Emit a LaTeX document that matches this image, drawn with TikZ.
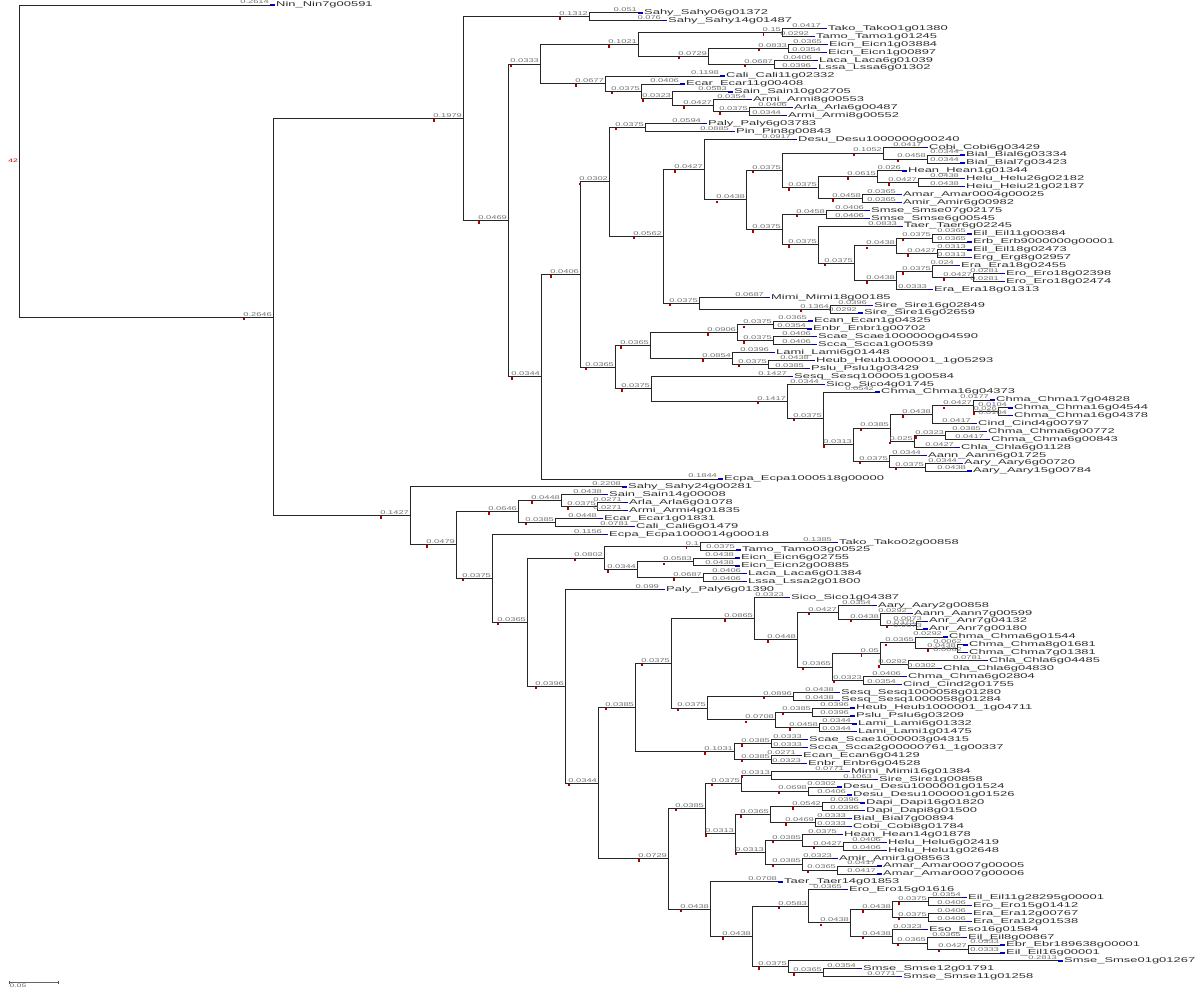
\documentclass[tikz,border=0pt]{standalone}
\usepackage{fontspec}
\usepackage{tikz}
\usetikzlibrary{calc}
\newfontfamily\tipfont[FakeStretch=1.85]{Liberation Sans}
\newfontfamily\lenfont[FakeStretch=1.7]{Liberation Sans}
\pgfkeys{/pgf/number format/.cd, fixed, precision=4, assume math mode=true}

% branch to an inner node / to a tip
\newcommand\br[2]{%
  \draw[branch] let \p1=(#1), \p2=(#2) in
    (#1) |- (#2) node[blen] (#2lab)
    {\pgfmathsetmacro\blen{(\x2-\x1)/960}\pgfmathprintnumber{\blen}};
  \fill[boot] ($(#2lab.south west)+(1pt,-0.6pt)$) rectangle ++(1.6pt,-2.4pt);}
\newcommand\bt[2]{%
  \draw[branch] let \p1=(#1), \p2=(#2.west) in
    (#1) |- (#2.west) node[blen]
    {\pgfmathsetmacro\blen{(\x2-\x1)/960}\pgfmathprintnumber{\blen}};
  \draw[tipmark] (#2.west) -- ++(5pt,0pt);}

\begin{document}
\begin{tikzpicture}[x=1pt, y=-7.9pt]

  % Styles
  \tikzset{
    branch/.style={draw=black!85, line width=1pt},
    blen/.style={pos=1, anchor=south east, inner sep=0.6pt,
      font=\lenfont\fontsize{5.5}{6}\selectfont, text=black!55},
    tip/.style={anchor=west, inner xsep=6pt, inner ysep=0pt,
      font=\tipfont\fontsize{7}{8}\selectfont, text=black!82},
    tipmark/.style={draw=blue!75!black, line width=1.3pt},
    boot/.style={fill=red!70!black},
  }

  \useasboundingbox (0,0.367) rectangle (1200,125.94);

  % Tips
  \node[tip] (t1) at (270,1) {Nin\_Nin7g00591};
  \node[tip] (t2) at (638,2) {Sahy\_Sahy06g01372};
  \node[tip] (t3) at (662,3) {Sahy\_Sahy14g01487};
  \node[tip] (t4) at (822,4) {Tako\_Tako01g01380};
  \node[tip] (t5) at (810,5) {Tamo\_Tamo1g01245};
  \node[tip] (t6) at (823,6) {Eicn\_Eicn1g03884};
  \node[tip] (t7) at (822,7) {Eicn\_Eicn1g00897};
  \node[tip] (t8) at (813,8) {Laca\_Laca6g01039};
  \node[tip] (t9) at (812,9) {Lssa\_Lssa6g01302};
  \node[tip] (t10) at (720,10) {Cali\_Cali11g02332};
  \node[tip] (t11) at (680,11) {Ecar\_Ecar11g00408};
  \node[tip] (t12) at (728,12) {Sain\_Sain10g02705};
  \node[tip] (t13) at (747,13) {Armi\_Armi8g00553};
  \node[tip] (t14) at (788,14) {Arla\_Arla6g00487};
  \node[tip] (t15) at (782,15) {Armi\_Armi8g00552};
  \node[tip] (t16) at (702,16) {Paly\_Paly6g03783};
  \node[tip] (t17) at (730,17) {Pin\_Pin8g00843};
  \node[tip] (t18) at (792,18) {Desu\_Desu1000000g00240};
  \node[tip] (t19) at (923,19) {Cobi\_Cobi6g03429};
  \node[tip] (t20) at (960,20) {Bial\_Bial6g03334};
  \node[tip] (t21) at (960,21) {Bial\_Bial7g03423};
  \node[tip] (t22) at (902,22) {Hean\_Hean1g01344};
  \node[tip] (t23) at (960,23) {Helu\_Helu26g02182};
  \node[tip] (t24) at (960,24) {Heiu\_Heiu21g02187};
  \node[tip] (t25) at (897,25) {Amar\_Amar0004g00025};
  \node[tip] (t26) at (897,26) {Amir\_Amir6g00982};
  \node[tip] (t27) at (865,27) {Smse\_Smse07g02175};
  \node[tip] (t28) at (865,28) {Smse\_Smse6g00545};
  \node[tip] (t29) at (898,29) {Taer\_Taer6g02245};
  \node[tip] (t30) at (967,30) {Eil\_Eil11g00384};
  \node[tip] (t31) at (967,31) {Erb\_Erb9000000g00001};
  \node[tip] (t32) at (967,32) {Eil\_Eil18g02473};
  \node[tip] (t33) at (967,33) {Erg\_Erg8g02957};
  \node[tip] (t34) at (955,34) {Era\_Era18g02455};
  \node[tip] (t35) at (1000,35) {Ero\_Ero18g02398};
  \node[tip] (t36) at (1000,36) {Ero\_Ero18g02474};
  \node[tip] (t37) at (928,37) {Era\_Era18g01313};
  \node[tip] (t38) at (765,38) {Mimi\_Mimi18g00185};
  \node[tip] (t39) at (868,39) {Sire\_Sire16g02849};
  \node[tip] (t40) at (858,40) {Sire\_Sire16g02659};
  \node[tip] (t41) at (808,41) {Ecan\_Ecan1g04325};
  \node[tip] (t42) at (807,42) {Enbr\_Enbr1g00702};
  \node[tip] (t43) at (812,43) {Scae\_Scae1000000g04590};
  \node[tip] (t44) at (812,44) {Scca\_Scca1g00539};
  \node[tip] (t45) at (770,45) {Lami\_Lami6g01448};
  \node[tip] (t46) at (810,46) {Heub\_Heub1000001\_1g05293};
  \node[tip] (t47) at (805,47) {Pslu\_Pslu1g03429};
  \node[tip] (t48) at (788,48) {Sesq\_Sesq1000051g00584};
  \node[tip] (t49) at (820,49) {Sico\_Sico4g01745};
  \node[tip] (t50) at (875,50) {Chma\_Chma16g04373};
  \node[tip] (t51) at (990,51) {Chma\_Chma17g04828};
  \node[tip] (t52) at (1008,52) {Chma\_Chma16g04544};
  \node[tip] (t53) at (1008,53) {Chma\_Chma16g04378};
  \node[tip] (t54) at (972,54) {Cind\_Cind4g00797};
  \node[tip] (t55) at (982,55) {Chma\_Chma6g00772};
  \node[tip] (t56) at (985,56) {Chma\_Chma6g00843};
  \node[tip] (t57) at (955,57) {Chla\_Chla6g01128};
  \node[tip] (t58) at (922,58) {Aann\_Aann6g01725};
  \node[tip] (t59) at (958,59) {Aary\_Aary6g00720};
  \node[tip] (t60) at (967,60) {Aary\_Aary15g00784};
  \node[tip] (t61) at (718,61) {Ecpa\_Ecpa1000518g00000};
  \node[tip] (t62) at (622,62) {Sahy\_Sahy24g00281};
  \node[tip] (t63) at (603,63) {Sain\_Sain14g00008};
  \node[tip] (t64) at (623,64) {Arla\_Arla6g01078};
  \node[tip] (t65) at (623,65) {Armi\_Armi4g01835};
  \node[tip] (t66) at (598,66) {Ecar\_Ecar1g01831};
  \node[tip] (t67) at (630,67) {Cali\_Cali6g01479};
  \node[tip] (t68) at (603,68) {Ecpa\_Ecpa1000014g00018};
  \node[tip] (t69) at (833,69) {Tako\_Tako02g00858};
  \node[tip] (t70) at (736,70) {Tamo\_Tamo03g00525};
  \node[tip] (t71) at (735,71) {Eicn\_Eicn6g02755};
  \node[tip] (t72) at (735,72) {Eicn\_Eicn2g00885};
  \node[tip] (t73) at (742,73) {Laca\_Laca6g01384};
  \node[tip] (t74) at (742,74) {Lssa\_Lssa2g01800};
  \node[tip] (t75) at (660,75) {Paly\_Paly6g01390};
  \node[tip] (t76) at (785,76) {Sico\_Sico1g04387};
  \node[tip] (t77) at (872,77) {Aary\_Aary2g00858};
  \node[tip] (t78) at (908,78) {Aann\_Aann7g00599};
  \node[tip] (t79) at (923,79) {Anr\_Anr7g04132};
  \node[tip] (t80) at (923,80) {Anr\_Anr7g00180};
  \node[tip] (t81) at (943,81) {Chma\_Chma6g01544};
  \node[tip] (t82) at (963,82) {Chma\_Chma8g01681};
  \node[tip] (t83) at (963,83) {Chma\_Chma7g01381};
  \node[tip] (t84) at (983,84) {Chla\_Chla6g04485};
  \node[tip] (t85) at (937,85) {Chla\_Chla6g04830};
  \node[tip] (t86) at (902,86) {Chma\_Chma6g02804};
  \node[tip] (t87) at (897,87) {Cind\_Cind2g01755};
  \node[tip] (t88) at (835,88) {Sesq\_Sesq1000058g01280};
  \node[tip] (t89) at (835,89) {Sesq\_Sesq1000058g01284};
  \node[tip] (t90) at (850,90) {Heub\_Heub1000001\_1g04711};
  \node[tip] (t91) at (850,91) {Pslu\_Pslu6g03209};
  \node[tip] (t92) at (852,92) {Lami\_Lami6g01332};
  \node[tip] (t93) at (852,93) {Lami\_Lami1g01475};
  \node[tip] (t94) at (803,94) {Scae\_Scae1000003g04315};
  \node[tip] (t95) at (803,95) {Scca\_Scca2g00000761\_1g00337};
  \node[tip] (t96) at (797,96) {Ecan\_Ecan6g04129};
  \node[tip] (t97) at (802,97) {Enbr\_Enbr6g04528};
  \node[tip] (t98) at (845,98) {Mimi\_Mimi16g01384};
  \node[tip] (t99) at (873,99) {Sire\_Sire1g00858};
  \node[tip] (t100) at (837,100) {Desu\_Desu1000001g01524};
  \node[tip] (t101) at (847,101) {Desu\_Desu1000001g01526};
  \node[tip] (t102) at (860,102) {Dapi\_Dapi16g01820};
  \node[tip] (t103) at (860,103) {Dapi\_Dapi8g01500};
  \node[tip] (t104) at (847,104) {Bial\_Bial7g00894};
  \node[tip] (t105) at (847,105) {Cobi\_Cobi8g01784};
  \node[tip] (t106) at (838,106) {Hean\_Hean14g01878};
  \node[tip] (t107) at (882,107) {Helu\_Helu6g02419};
  \node[tip] (t108) at (882,108) {Helu\_Helu1g02648};
  \node[tip] (t109) at (833,109) {Amir\_Amir1g08563};
  \node[tip] (t110) at (877,110) {Amar\_Amar0007g00005};
  \node[tip] (t111) at (877,111) {Amar\_Amar0007g00006};
  \node[tip] (t112) at (778,112) {Taer\_Taer14g01853};
  \node[tip] (t113) at (843,113) {Ero\_Ero15g01616};
  \node[tip] (t114) at (962,114) {Eil\_Eil11g28295g00001};
  \node[tip] (t115) at (967,115) {Ero\_Ero15g01412};
  \node[tip] (t116) at (967,116) {Era\_Era12g00767};
  \node[tip] (t117) at (967,117) {Era\_Era12g01538};
  \node[tip] (t118) at (923,118) {Eso\_Eso16g01584};
  \node[tip] (t119) at (962,119) {Eil\_Eil8g00867};
  \node[tip] (t120) at (1000,120) {Ebr\_Ebr189638g00001};
  \node[tip] (t121) at (1000,121) {Eil\_Eil16g00001};
  \node[tip] (t122) at (1058,122) {Smse\_Smse01g01267};
  \node[tip] (t123) at (857,123) {Smse\_Smse12g01791};
  \node[tip] (t124) at (897,124) {Smse\_Smse11g01258};

  % Inner nodes, upper half
  \coordinate (root) at (19,20.76);
  \coordinate (n1) at (273,40.53);
  \coordinate (n2) at (463,15.39);
  \coordinate (nSahy) at (589,2.5);
  \coordinate (n4) at (508,28.28);
  \coordinate (n5) at (540,8.48);
  \coordinate (n7) at (638,6.0);
  \coordinate (nTT) at (782,4.5);
  \coordinate (n10) at (708,7.5);
  \coordinate (nEi) at (788,6.5);
  \coordinate (nLa) at (774,8.5);
  \coordinate (n8) at (605,10.97);
  \coordinate (n13) at (641,11.94);
  \coordinate (n14) at (672,12.88);
  \coordinate (nAr1) at (713,13.75);
  \coordinate (nAr2) at (749,14.5);
  \coordinate (n6) at (541,48.07);
  \coordinate (n17) at (580,35.13);
  \coordinate (n18) at (609,23.4);
  \coordinate (nPa) at (645,16.5);
  \coordinate (n21) at (663,30.3);
  \coordinate (n22) at (704,21.84);
  \coordinate (n24) at (746,25.68);
  \coordinate (n25) at (782,21.94);
  \coordinate (nCo) at (883,19.75);
  \coordinate (nBi) at (927,20.5);
  \coordinate (n28) at (818,24.13);
  \coordinate (nHe1) at (877,22.75);
  \coordinate (nHe2) at (918,23.5);
  \coordinate (nAm) at (862,25.5);
  \coordinate (n26) at (782,29.42);
  \coordinate (nSm) at (826,27.5);
  \coordinate (nTa) at (818,31.34);
  \coordinate (nE7) at (854,33.69);
  \coordinate (nE3) at (896,31.5);
  \coordinate (nE1) at (932,30.5);
  \coordinate (nE2) at (937,32.5);
  \coordinate (nE6) at (896,35.88);
  \coordinate (nE5) at (932,34.75);
  \coordinate (nE4) at (973,35.5);
  \coordinate (n23) at (699,38.75);
  \coordinate (nSi) at (830,39.5);
  \coordinate (n19) at (615,46.85);
  \coordinate (n650) at (650,44.13);
  \coordinate (n737) at (737,42.5);
  \coordinate (nEc) at (773,41.5);
  \coordinate (nSc) at (773,43.5);
  \coordinate (n732) at (732,45.75);
  \coordinate (nHP) at (768,46.5);
  \coordinate (n651) at (651,49.58);
  \coordinate (n787) at (787,51.17);
  \coordinate (n823) at (823,53.33);
  \coordinate (nX) at (853,56.66);
  \coordinate (nE) at (890,54.56);
  \coordinate (nB) at (932,52.88);
  \coordinate (nG) at (973,51.75);
  \coordinate (nA) at (998,52.5);
  \coordinate (nD) at (914,56.25);
  \coordinate (nC) at (945,55.5);
  \coordinate (nH) at (889,58.75);
  \coordinate (nF) at (925,59.5);

  % Inner nodes, lower half
  \coordinate (n3) at (410,65.67);
  \coordinate (n456) at (456,69.34);
  \coordinate (n518) at (518,65.13);
  \coordinate (nSa) at (561,63.75);
  \coordinate (nAr3) at (597,64.5);
  \coordinate (nEC) at (555,66.5);
  \coordinate (n492) at (492,73.56);
  \coordinate (n527) at (527,79.13);
  \coordinate (n604) at (604,71);
  \coordinate (nTT2) at (700,69.5);
  \coordinate (n637) at (637,72.5);
  \coordinate (nEi2) at (693,71.5);
  \coordinate (nLa2) at (703,73.5);
  \coordinate (n565) at (565,87.25);
  \coordinate (n598) at (598,99.5);
  \coordinate (n635) at (635,89.92);
  \coordinate (n671) at (671,84.34);
  \coordinate (n754) at (754,78.67);
  \coordinate (n797) at (797,81.34);
  \coordinate (n838) at (838,77.88);
  \coordinate (nAa) at (880,78.75);
  \coordinate (nAnr) at (916,79.5);
  \coordinate (n832) at (832,84.81);
  \coordinate (n880) at (880,83.13);
  \coordinate (nCh1) at (915,81.75);
  \coordinate (nCh2) at (957,82.5);
  \coordinate (nCla) at (908,84.5);
  \coordinate (n863) at (863,86.5);
  \coordinate (n707) at (707,90);
  \coordinate (nSe) at (793,88.5);
  \coordinate (n775) at (775,91.5);
  \coordinate (nHP2) at (812,90.5);
  \coordinate (nLa3) at (819,92.5);
  \coordinate (n734) at (734,95.5);
  \coordinate (nSc2) at (771,94.5);
  \coordinate (nEc2) at (771,96.5);
  \coordinate (n668) at (668,109.08);
  \coordinate (n705) at (705,102.69);
  \coordinate (n741) at (741,99.5);
  \coordinate (nMS) at (771,98.5);
  \coordinate (nDe) at (808,100.5);
  \coordinate (n735) at (735,105.88);
  \coordinate (n770) at (770,103.5);
  \coordinate (nDa) at (822,102.5);
  \coordinate (nBC) at (815,104.5);
  \coordinate (n765) at (765,108.25);
  \coordinate (nHn) at (802,106.75);
  \coordinate (nHel) at (843,107.5);
  \coordinate (nAm2) at (802,109.75);
  \coordinate (nAa2) at (837,110.5);
  \coordinate (n710) at (710,115.46);
  \coordinate (n752) at (752,118.92);
  \coordinate (n808) at (808,115.09);
  \coordinate (n850) at (850,117.19);
  \coordinate (nE10) at (892,115.5);
  \coordinate (nE8) at (928,114.5);
  \coordinate (nE9) at (928,116.5);
  \coordinate (nE13) at (892,118.88);
  \coordinate (nE12) at (927,119.75);
  \coordinate (nE11) at (968,120.5);
  \coordinate (n788) at (788,122.75);
  \coordinate (nSm3) at (823,123.5);

  % Branches, upper half
  \bt{root}{t1} \br{root}{n1}
  \br{n1}{n2} \br{n1}{n3}
  \br{n2}{nSahy} \br{n2}{n4}
  \bt{nSahy}{t2} \bt{nSahy}{t3}
  \br{n4}{n5} \br{n4}{n6}
  \br{n5}{n7} \br{n5}{n8}
  \br{n7}{nTT} \br{n7}{n10}
  \bt{nTT}{t4} \bt{nTT}{t5}
  \br{n10}{nEi} \br{n10}{nLa}
  \bt{nEi}{t6} \bt{nEi}{t7}
  \bt{nLa}{t8} \bt{nLa}{t9}
  \bt{n8}{t10} \br{n8}{n13}
  \bt{n13}{t11} \br{n13}{n14}
  \bt{n14}{t12} \br{n14}{nAr1}
  \bt{nAr1}{t13} \br{nAr1}{nAr2}
  \bt{nAr2}{t14} \bt{nAr2}{t15}
  \br{n6}{n17} \bt{n6}{t61}
  \br{n17}{n18} \br{n17}{n19}
  \br{n18}{nPa} \br{n18}{n21}
  \bt{nPa}{t16} \bt{nPa}{t17}
  \br{n21}{n22} \br{n21}{n23}
  \bt{n22}{t18} \br{n22}{n24}
  \br{n24}{n25} \br{n24}{n26}
  \br{n25}{nCo} \br{n25}{n28}
  \bt{nCo}{t19} \br{nCo}{nBi}
  \bt{nBi}{t20} \bt{nBi}{t21}
  \br{n28}{nHe1} \br{n28}{nAm}
  \bt{nHe1}{t22} \br{nHe1}{nHe2}
  \bt{nHe2}{t23} \bt{nHe2}{t24}
  \bt{nAm}{t25} \bt{nAm}{t26}
  \br{n26}{nSm} \br{n26}{nTa}
  \bt{nSm}{t27} \bt{nSm}{t28}
  \bt{nTa}{t29} \br{nTa}{nE7}
  \br{nE7}{nE3} \br{nE7}{nE6}
  \br{nE3}{nE1} \br{nE3}{nE2}
  \bt{nE1}{t30} \bt{nE1}{t31}
  \bt{nE2}{t32} \bt{nE2}{t33}
  \br{nE6}{nE5} \bt{nE6}{t37}
  \bt{nE5}{t34} \br{nE5}{nE4}
  \bt{nE4}{t35} \bt{nE4}{t36}
  \bt{n23}{t38} \br{n23}{nSi}
  \bt{nSi}{t39} \bt{nSi}{t40}
  \br{n19}{n650} \br{n19}{n651}
  \br{n650}{n737} \br{n650}{n732}
  \br{n737}{nEc} \br{n737}{nSc}
  \bt{nEc}{t41} \bt{nEc}{t42}
  \bt{nSc}{t43} \bt{nSc}{t44}
  \bt{n732}{t45} \br{n732}{nHP}
  \bt{nHP}{t46} \bt{nHP}{t47}
  \bt{n651}{t48} \br{n651}{n787}
  \bt{n787}{t49} \br{n787}{n823}
  \bt{n823}{t50} \br{n823}{nX}
  \br{nX}{nE} \br{nX}{nH}
  \br{nE}{nB} \br{nE}{nD}
  \br{nB}{nG} \bt{nB}{t54}
  \bt{nG}{t51} \br{nG}{nA}
  \bt{nA}{t52} \bt{nA}{t53}
  \br{nD}{nC} \bt{nD}{t57}
  \bt{nC}{t55} \bt{nC}{t56}
  \bt{nH}{t58} \br{nH}{nF}
  \bt{nF}{t59} \bt{nF}{t60}

  % Branches, lower half
  \bt{n3}{t62} \br{n3}{n456}
  \br{n456}{n518} \br{n456}{n492}
  \br{n518}{nSa} \br{n518}{nEC}
  \bt{nSa}{t63} \br{nSa}{nAr3}
  \bt{nAr3}{t64} \bt{nAr3}{t65}
  \bt{nEC}{t66} \bt{nEC}{t67}
  \bt{n492}{t68} \br{n492}{n527}
  \br{n527}{n604} \br{n527}{n565}
  \br{n604}{nTT2} \br{n604}{n637}
  \bt{nTT2}{t69} \bt{nTT2}{t70}
  \br{n637}{nEi2} \br{n637}{nLa2}
  \bt{nEi2}{t71} \bt{nEi2}{t72}
  \bt{nLa2}{t73} \bt{nLa2}{t74}
  \bt{n565}{t75} \br{n565}{n598}
  \br{n598}{n635} \br{n598}{n668}
  \br{n635}{n671} \br{n635}{n734}
  \br{n671}{n754} \br{n671}{n707}
  \bt{n754}{t76} \br{n754}{n797}
  \br{n797}{n838} \br{n797}{n832}
  \bt{n838}{t77} \br{n838}{nAa}
  \bt{nAa}{t78} \br{nAa}{nAnr}
  \bt{nAnr}{t79} \bt{nAnr}{t80}
  \br{n832}{n880} \br{n832}{n863}
  \br{n880}{nCh1} \br{n880}{nCla}
  \bt{nCh1}{t81} \br{nCh1}{nCh2}
  \bt{nCh2}{t82} \bt{nCh2}{t83}
  \bt{nCla}{t84} \bt{nCla}{t85}
  \bt{n863}{t86} \bt{n863}{t87}
  \br{n707}{nSe} \br{n707}{n775}
  \bt{nSe}{t88} \bt{nSe}{t89}
  \br{n775}{nHP2} \br{n775}{nLa3}
  \bt{nHP2}{t90} \bt{nHP2}{t91}
  \bt{nLa3}{t92} \bt{nLa3}{t93}
  \br{n734}{nSc2} \br{n734}{nEc2}
  \bt{nSc2}{t94} \bt{nSc2}{t95}
  \bt{nEc2}{t96} \bt{nEc2}{t97}
  \br{n668}{n705} \br{n668}{n710}
  \br{n705}{n741} \br{n705}{n735}
  \br{n741}{nMS} \br{n741}{nDe}
  \bt{nMS}{t98} \bt{nMS}{t99}
  \bt{nDe}{t100} \bt{nDe}{t101}
  \br{n735}{n770} \br{n735}{n765}
  \br{n770}{nDa} \br{n770}{nBC}
  \bt{nDa}{t102} \bt{nDa}{t103}
  \bt{nBC}{t104} \bt{nBC}{t105}
  \br{n765}{nHn} \br{n765}{nAm2}
  \bt{nHn}{t106} \br{nHn}{nHel}
  \bt{nHel}{t107} \bt{nHel}{t108}
  \bt{nAm2}{t109} \br{nAm2}{nAa2}
  \bt{nAa2}{t110} \bt{nAa2}{t111}
  \bt{n710}{t112} \br{n710}{n752}
  \br{n752}{n808} \br{n752}{n788}
  \bt{n808}{t113} \br{n808}{n850}
  \br{n850}{nE10} \br{n850}{nE13}
  \br{nE10}{nE8} \br{nE10}{nE9}
  \bt{nE8}{t114} \bt{nE8}{t115}
  \bt{nE9}{t116} \bt{nE9}{t117}
  \bt{nE13}{t118} \br{nE13}{nE12}
  \bt{nE12}{t119} \br{nE12}{nE11}
  \bt{nE11}{t120} \bt{nE11}{t121}
  \bt{n788}{t122} \br{n788}{nSm3}
  \bt{nSm3}{t123} \bt{nSm3}{t124}

  % Root label and scale bar
  \node[anchor=east, inner sep=1pt, text=red!75!black,
    font=\lenfont\fontsize{5}{5}\selectfont] (rootlab) at (root) {42};
  \coordinate (sb0) at (9,124.67);
  \coordinate (sb1) at (58,124.67);
  \draw[black!60, line width=0.8pt] (sb0) -- (sb1);
  \draw[black!70, line width=1pt] (sb0) ++(0pt,1.5pt) -- ++(0pt,-3pt);
  \draw[black!70, line width=1pt] (sb1) ++(0pt,1.5pt) -- ++(0pt,-3pt);
  \node[anchor=north west, inner sep=0.5pt, text=black!60,
    font=\lenfont\fontsize{5}{5}\selectfont] (sblab) at ($(sb0)+(0pt,-1.5pt)$) {0.05};

\end{tikzpicture}
\end{document}
